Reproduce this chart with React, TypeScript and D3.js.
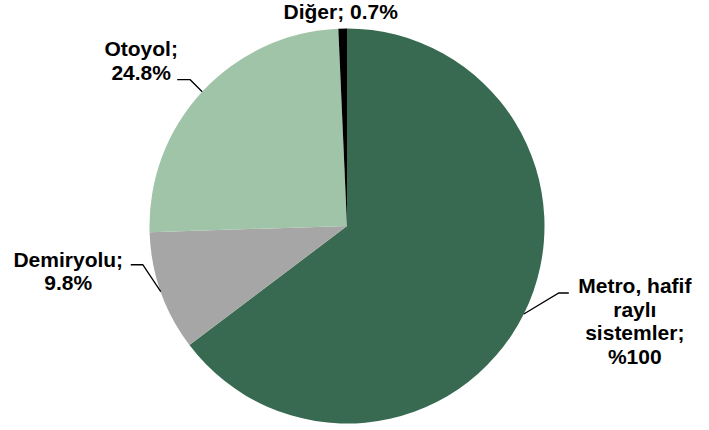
import { useEffect, useRef } from "react"
import * as d3 from "d3"

const categories = ["Metro, hafif raylı sistemler", "Demiryolu", "Otoyol", "Diğer"]
const values = [64.7, 9.8, 24.8, 0.7]
const labelLines = [
  ["Metro, hafif", "raylı", "sistemler;", "%100"],
  ["Demiryolu;", "9.8%"],
  ["Otoyol;", "24.8%"],
  ["Diğer; 0.7%"],
]
const colors = ["#386a52", "#a6a6a6", "#a0c4a8", "#000000"]

const width = 709
const height = 430

// leader line layout per slice: elbow offset from arc point, horizontal run, text offset from line end
const leaders = [
  { ex: 35, ey: -21, run: 10, tx: 66, ty: 0 },
  { ex: -18, ey: -27, run: -12, tx: -62.5, ty: 2 },
  { ex: -12, ey: -12, run: -13, tx: -36, ty: -23.5 },
  null,
]

export default function App() {
  const svgRef = useRef<SVGSVGElement>(null)

  useEffect(() => {
    if (!svgRef.current) return
    const svg = d3.select(svgRef.current)
    svg.selectAll("*").remove()

    const cx = 347
    const cy = 226
    const radius = 197.5
    const lineH = 23.5

    const g = svg.append("g").attr("transform", `translate(${cx},${cy})`)

    const pie = d3
      .pie<number>()
      .sort(null)
      .value((d) => d)
    const arcs = pie(values)

    const arc = d3.arc<d3.PieArcDatum<number>>().innerRadius(0).outerRadius(radius)

    g.selectAll(".slice")
      .data(arcs)
      .enter()
      .append("path")
      .attr("class", "slice")
      .attr("d", arc)
      .attr("fill", (d, i) => colors[i])
      .attr("stroke", "none")
      .append("title")
      .text((d, i) => categories[i])

    const font = "'Liberation Sans', Arial, Helvetica, sans-serif"

    arcs.forEach((a, i) => {
      const mid = (a.startAngle + a.endAngle) / 2
      const px = radius * Math.sin(mid)
      const py = -radius * Math.cos(mid)
      const L = leaders[i]
      let tx: number
      let ty: number
      if (L) {
        const ex = px + L.ex
        const ey = py + L.ey
        const endX = ex + L.run
        g.append("path")
          .attr("d", `M${px},${py}L${ex},${ey}L${endX},${ey}`)
          .attr("fill", "none")
          .attr("stroke", "#000")
          .attr("stroke-width", 1.3)
        tx = endX + L.tx
        ty = ey + L.ty
      } else {
        tx = px - 2
        ty = py - 9.5
      }
      const text = g
        .append("text")
        .attr("text-anchor", "middle")
        .style("font-family", font)
        .style("font-weight", "bold")
        .style("font-size", "21px")
        .attr("fill", "#000")
      labelLines[i].forEach((line, j) => {
        text
          .append("tspan")
          .attr("x", tx)
          .attr("y", ty + j * lineH)
          .text(line)
      })
    })
  }, [])

  return (
    <svg
      ref={svgRef}
      width={width}
      height={height}
      style={{ position: "absolute", left: 0, top: 0, background: "#fff" }}
    />
  )
}
